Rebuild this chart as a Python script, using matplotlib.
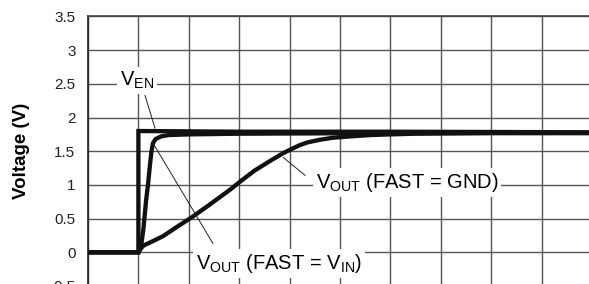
import matplotlib
matplotlib.use("Agg")
import matplotlib.pyplot as plt

plt.rcParams["font.family"] = ["Liberation Sans", "DejaVu Sans"]
plt.rcParams["mathtext.fontset"] = "custom"
plt.rcParams["mathtext.rm"] = "Liberation Sans"
plt.rcParams["mathtext.it"] = "Liberation Sans"

# time in grid divisions, voltage in V
ven_t = [0.0, 0.5, 1.0, 1.0, 3.0, 6.0, 10.5]
ven_v = [0.0, 0.0, 0.0, 1.80, 1.79, 1.79, 1.78]

fast_t = [0.0, 1.0, 1.05, 1.1, 1.15, 1.19, 1.23, 1.26, 1.29, 1.34, 1.45, 1.6, 2.0, 3.0, 6.0, 10.5]
fast_v = [0.0, 0.0, 0.07, 0.35, 0.75, 1.0, 1.3, 1.5, 1.62, 1.68, 1.72, 1.74, 1.75, 1.76, 1.77, 1.77]

gnd_t = [0.0, 1.0, 1.04, 1.1, 1.3, 1.49, 1.75, 2.06, 2.4, 2.82, 3.02, 3.3, 3.6, 3.87, 4.03, 4.2,
         4.35, 4.6, 4.86, 5.2, 5.6, 6.0, 6.5, 8.0, 10.5]
gnd_v = [0.0, 0.0, 0.05, 0.1, 0.17, 0.24, 0.37, 0.52, 0.70, 0.93, 1.05, 1.21, 1.35, 1.47, 1.53, 1.59,
         1.63, 1.67, 1.70, 1.72, 1.74, 1.75, 1.76, 1.77, 1.77]

y_ticks = [-0.5, 0, 0.5, 1, 1.5, 2, 2.5, 3, 3.5]
y_labels = ["-0.5", "0", "0.5", "1", "1.5", "2", "2.5", "3", "3.5"]

fig = plt.figure(figsize=(5.89, 2.84), dpi=100)
ax = fig.add_axes([0.1494, -0.007, 0.8557, 0.949])

ax.plot(gnd_t, gnd_v, color="#111111", lw=3.1, zorder=3, solid_capstyle="butt")
ax.plot(fast_t, fast_v, color="#111111", lw=3.1, zorder=3, solid_capstyle="butt")
ax.plot(ven_t, ven_v, color="#111111", lw=3.1, zorder=3, solid_joinstyle="miter")

ax.set_xlim(0, 10)
ax.set_ylim(-0.5, 3.5)
ax.set_xticks(range(0, 11))
ax.set_xticklabels([])
ax.set_yticks(y_ticks)
ax.set_yticklabels(y_labels, fontsize=11, color="#222222")
ax.tick_params(length=0, pad=9)
ax.grid(True, color="#555555", lw=1.0, zorder=1)
ax.set_axisbelow(True)
for side in ["left", "top", "right", "bottom"]:
    ax.spines[side].set_color("#444444")
    ax.spines[side].set_linewidth(1.2)
ax.spines["left"].set_color("#222222")

ax.set_ylabel("Voltage (V)", fontsize=13.5, fontweight="bold", labelpad=14)

box = dict(boxstyle="square,pad=0.15", fc="white", ec="none")
line = dict(arrowstyle="-", color="#222222", lw=0.7, shrinkA=0, shrinkB=0)

ax.text(0.97, 2.55, r"V$_{\mathrm{EN}}$", fontsize=14.5, ha="center", va="center", bbox=box, zorder=4)
ax.annotate("", xy=(1.33, 1.84), xytext=(1.13, 2.33), arrowprops=line, zorder=4)

ax.text(6.33, 1.03, r"V$_{\mathrm{OUT}}$ (FAST = GND)", fontsize=14.5, ha="center", va="center", bbox=box, zorder=4)
ax.annotate("", xy=(3.87, 1.41), xytext=(4.31, 1.14), arrowprops=line, zorder=4)

ax.text(3.79, -0.17, r"V$_{\mathrm{OUT}}$ (FAST = V$_{\mathrm{IN}}$)", fontsize=14.5, ha="center", va="center", bbox=box, zorder=4)
ax.annotate("", xy=(1.29, 1.62), xytext=(2.48, 0.13), arrowprops=line, zorder=4)

fig.savefig("out.png", dpi=100)
